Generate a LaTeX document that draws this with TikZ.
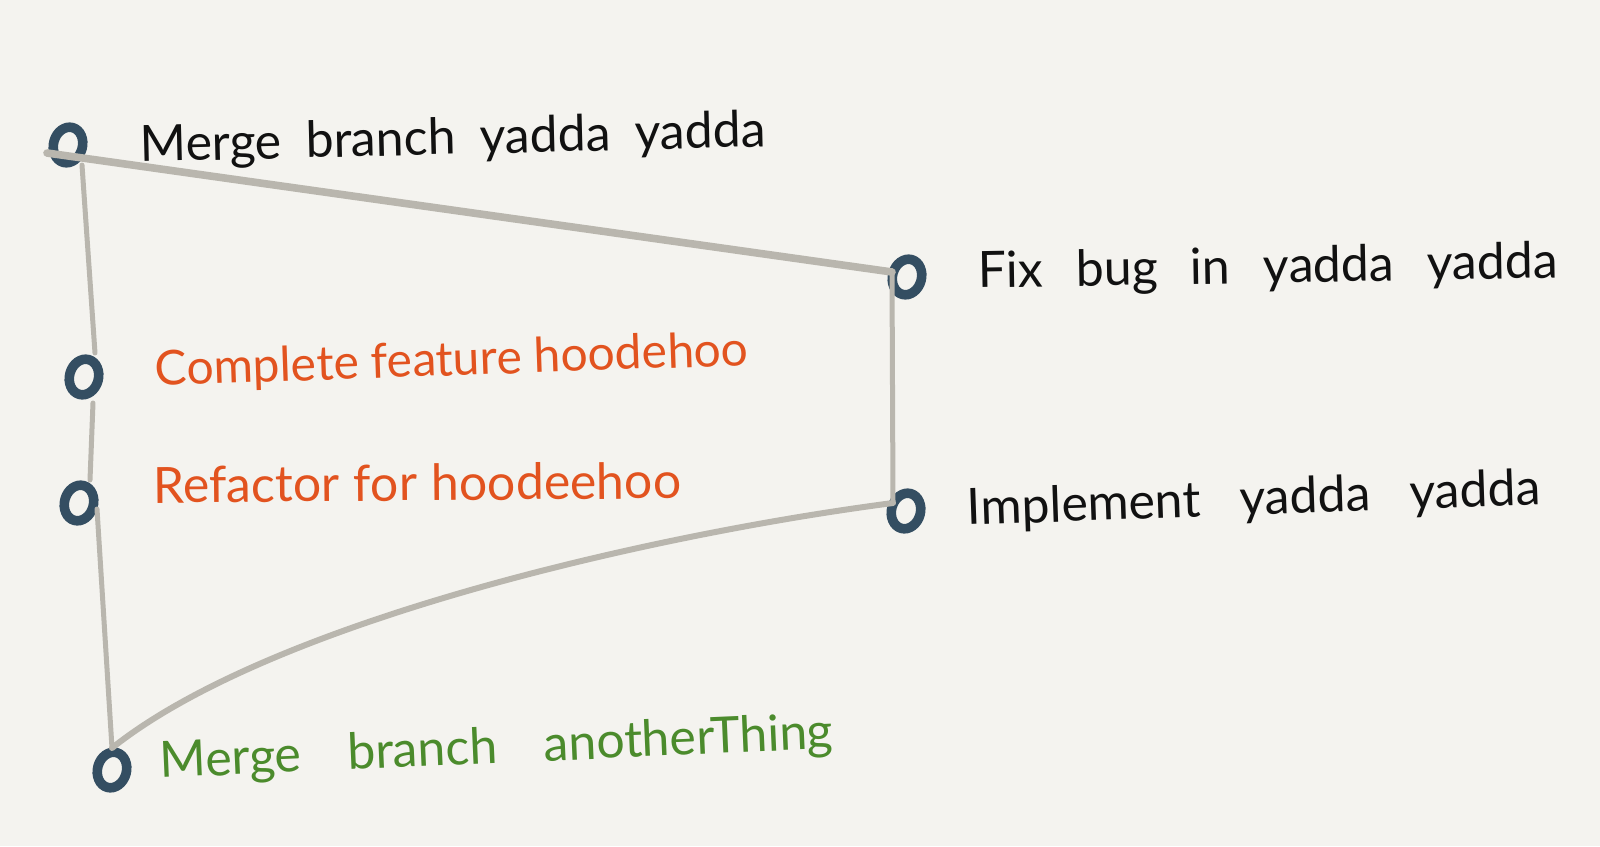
\documentclass[tikz,border=0pt]{standalone}
\usepackage{fontspec}
\setmainfont{Lato}
\usetikzlibrary{shapes.geometric,calc}
\definecolor{bgc}{HTML}{F4F3EF}
\definecolor{nodec}{HTML}{344E62}
\definecolor{linec}{HTML}{B9B6AE}
\definecolor{orangec}{HTML}{E2531F}
\definecolor{greenc}{HTML}{4B8B2C}
\definecolor{inkc}{HTML}{111111}
\tikzset{
  commit/.style={ellipse, draw=nodec, line width=4.8pt, minimum width=14.5pt, minimum height=18pt, inner sep=0pt, rotate=-15},
  edge/.style={draw=linec, line width=2.5pt, line cap=round},
  label/.style={anchor=base west, inner sep=0pt, font=\fontsize{25}{29}\selectfont},
}
\begin{document}
\begin{tikzpicture}[x=0.5pt,y=-0.5pt]
\fill[bgc] (0,0) rectangle (1600,846);
\useasboundingbox (0,0) rectangle (1600,846);
% commits
\node[commit] (a) at (68,145) {};
\node[commit] (c) at (84,377) {};
\node[commit] (r) at (79,503) {};
\node[commit] (b) at (112,770) {};
\node[commit] (f) at (907,277) {};
\node[commit] (i) at (906,511) {};
% connectors
\draw[edge, line width=3.8pt] ($(a)+(-21,8)$) -- ($(f)+(-15,-5)$);
\draw[edge] ($(a)+(14,20)$) -- ($(c)+(11,-24)$);
\draw[edge] ($(c)+(9,26)$) -- ($(r)+(11,-23)$);
\draw[edge] ($(r)+(18,6)$) -- ($(b)+(0,-22)$);
\draw[edge] ($(f)+(-15,-5)$) -- ($(i)+(-13,-8)$);
\draw[edge, line width=3pt] ($(b)+(0,-22)$) .. controls (270,622) and (648,535) .. ($(i)+(-13,-8)$);
% labels
\node[label, text=inkc, rotate=1.4] (la) at (140,162) {\makebox[313pt][s]{Merge branch yadda yadda}};
\node[label, text=inkc, rotate=1] (lf) at (978,288) {\makebox[290pt][s]{Fix bug in yadda yadda}};
\node[label, text=orangec, rotate=2, font=\fontsize{24}{28}\selectfont] (lc) at (155,386) {\makebox[297pt][s]{Complete feature hoodehoo}};
\node[label, text=orangec, rotate=0.5] (lr) at (153,503) {\makebox[264pt][s]{Refactor for hoodeehoo}};
\node[label, text=inkc, rotate=2] (li) at (967,525) {\makebox[287pt][s]{Implement yadda yadda}};
\node[label, text=greenc, rotate=2.5] (lb) at (160,778) {\makebox[337pt][s]{Merge branch anotherThing}};
\end{tikzpicture}
\end{document}
